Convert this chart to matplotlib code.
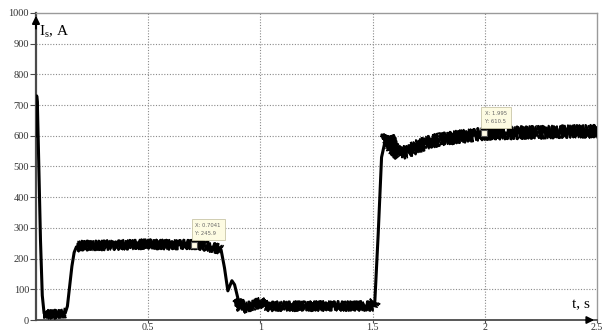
import numpy as np
import matplotlib.pyplot as plt

# stator current transient, key points of the waveform (t in s, I in A)
t_pts = [0.000, 0.003, 0.006, 0.012, 0.020, 0.028, 0.036, 0.060, 0.100, 0.130,
         0.140, 0.150, 0.160, 0.170, 0.180, 0.200, 0.300, 0.400, 0.500, 0.600,
         0.704, 0.760, 0.810, 0.825, 0.840, 0.855, 0.873, 0.885, 0.900, 0.918,
         0.940, 0.970, 1.000, 1.030, 1.100, 1.200, 1.300, 1.400, 1.500, 1.510,
         1.525, 1.540, 1.555, 1.568, 1.590, 1.620, 1.660, 1.700, 1.740, 1.800,
         1.900, 1.995, 2.100, 2.200, 2.300, 2.400, 2.500]
i_pts = [600, 730, 710, 520, 260, 80, 22, 18, 19, 22,
         45, 110, 175, 220, 238, 242, 243, 245, 247, 245,
         246, 240, 233, 228, 170, 95, 128, 115, 70, 35,
         42, 48, 58, 45, 45, 45, 46, 45, 46, 60,
         280, 530, 580, 598, 560, 540, 552, 565, 577, 588,
         598, 606, 609, 611, 612, 614, 615]

# data tips
tips = [(0.7041, 245.9), (1.995, 610.5)]

y_ticks = [0, 100, 200, 300, 400, 500, 600, 700, 800, 900, 1000]
x_ticks = [0.5, 1, 1.5, 2, 2.5]
x_labels = ['0.5', '1', '1.5', '2', '2.5']

# index ranges of the quasi-steady parts where the ripple shows, and its size in px
ripple_parts = [(6, 10), (14, 24), (28, 40), (42, 57)]
ripple_size = [4.5, 5.0, 5.0, 6.5]

plt.rcParams['font.family'] = ['Liberation Serif', 'DejaVu Serif']

fig = plt.figure(figsize=(6.06, 3.33), dpi=100)
ax = fig.add_axes([0.0594, 0.039, 0.9257, 0.922])
ax.set_xlim(0, 2.5)
ax.set_ylim(0, 1000)

# dotted grid
for y in y_ticks[1:-1]:
    ax.axhline(y, color='#8a8a8a', lw=0.8, ls=(0, (1, 1.5)), zorder=1)
for x in x_ticks[:-1]:
    ax.axvline(x, color='#8a8a8a', lw=0.8, ls=(0, (1, 1.5)), zorder=1)

# current trace
ax.plot(t_pts, i_pts, color='black', lw=2.2, solid_joinstyle='round', zorder=4)
for (a, b), s in zip(ripple_parts, ripple_size):
    for k, lw in enumerate([1.5, 1.3, 1.1, 1.1, 1.0]):
        ln, = ax.plot(t_pts[a:b], i_pts[a:b], color='black', lw=lw, zorder=3)
        ln.set_sketch_params(scale=s, length=0.7, randomness=6 + k)

# data tips
for tx, ty in tips:
    ax.plot(tx, ty, marker='s', ms=4.5, mfc='#fffbe6', mec='#555555', mew=0.8, zorder=6)
    ax.annotate(f'X: {tx:g}\nY: {ty:g}', (tx, ty), xytext=(1, 6), textcoords='offset points',
                fontsize=3.8, family='DejaVu Sans', color='#666666', ha='left', va='bottom',
                linespacing=1.8,
                bbox=dict(boxstyle='square,pad=0.7', fc='#fdfbe2', ec='#c9c6a8', lw=0.6),
                zorder=7)

# frame
for side in ['top', 'right']:
    ax.spines[side].set_color('#9a9a9a')
    ax.spines[side].set_linewidth(1.0)
ax.spines['left'].set_color('#4a4a4a')
ax.spines['left'].set_linewidth(1.6)
ax.spines['bottom'].set_color('#4a4a4a')
ax.spines['bottom'].set_linewidth(1.3)

# axis arrows
ax.annotate('', xy=(0, 1000), xytext=(0, 940), xycoords='data',
            arrowprops=dict(arrowstyle='-|>', color='black', lw=1.4, mutation_scale=11),
            annotation_clip=False, zorder=8)
ax.annotate('', xy=(2.5, 0), xytext=(2.44, 0), xycoords='data',
            arrowprops=dict(arrowstyle='-|>', color='black', lw=1.2, mutation_scale=11),
            annotation_clip=False, zorder=8)

ax.set_yticks(y_ticks)
ax.set_yticklabels([str(v) for v in y_ticks])
ax.set_xticks(x_ticks)
ax.set_xticklabels(x_labels)
ax.tick_params(axis='y', length=4, width=0.8, color='#4a4a4a', pad=1,
               labelsize=7.5, labelcolor='#333333')
ax.tick_params(axis='x', length=2, width=0.8, color='#4a4a4a', pad=0.5,
               labelsize=7.2, labelcolor='#333333')

ax.text(0.014, 965, r'I$_\mathregular{s}$, A', fontsize=11, ha='left', va='top', zorder=9)
ax.text(2.39, 28, 't, s', fontsize=11, ha='left', va='bottom', zorder=9)

fig.savefig('out.png', dpi=100)
